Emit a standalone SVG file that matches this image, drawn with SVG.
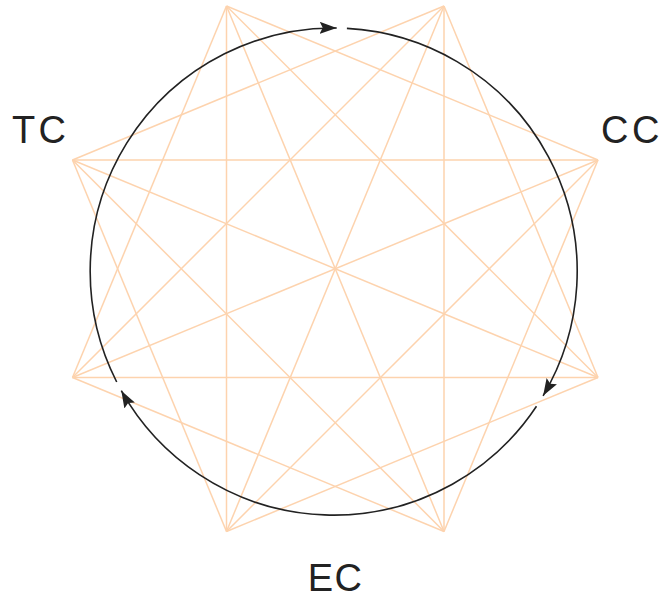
<svg xmlns="http://www.w3.org/2000/svg" width="660" height="599" viewBox="0 0 660 599">
<style>
.star line{stroke:#FDD3AE;stroke-width:1.5;fill:none}
.cyc{stroke:#222;stroke-width:1.6;fill:none;marker-end:url(#ah)}
.lbl{font-family:"Liberation Sans",Arial,sans-serif;font-size:38px;fill:#222}
</style>
<defs>
<marker id="ah" markerUnits="userSpaceOnUse" markerWidth="20" markerHeight="14" refX="17" refY="6" orient="auto" viewBox="0 0 20 14">
<path d="M0,0 L17,6 L0,12 L3,6 Z" fill="#222"/>
</marker>
</defs>
<rect width="660" height="599" fill="#fff"/>
<g id="connectors" class="star">
<line x1="226.5" y1="6" x2="598" y2="160"/>
<line x1="444" y1="6" x2="598" y2="377.5"/>
<line x1="598" y1="160" x2="444" y2="531.5"/>
<line x1="598" y1="377.5" x2="226.5" y2="531.5"/>
<line x1="444" y1="531.5" x2="72.5" y2="377.5"/>
<line x1="226.5" y1="531.5" x2="72.5" y2="160"/>
<line x1="72.5" y1="377.5" x2="226.5" y2="6"/>
<line x1="72.5" y1="160" x2="444" y2="6"/>
<line x1="226.5" y1="6" x2="598" y2="377.5"/>
<line x1="444" y1="6" x2="444" y2="531.5"/>
<line x1="598" y1="160" x2="226.5" y2="531.5"/>
<line x1="598" y1="377.5" x2="72.5" y2="377.5"/>
<line x1="444" y1="531.5" x2="72.5" y2="160"/>
<line x1="226.5" y1="531.5" x2="226.5" y2="6"/>
<line x1="72.5" y1="377.5" x2="444" y2="6"/>
<line x1="72.5" y1="160" x2="598" y2="160"/>
<line x1="226.5" y1="6" x2="444" y2="531.5"/>
<line x1="444" y1="6" x2="226.5" y2="531.5"/>
<line x1="598" y1="160" x2="72.5" y2="377.5"/>
<line x1="598" y1="377.5" x2="72.5" y2="160"/>
</g>
<g id="cycle">
<path class="cyc" d="M116.7,382.0 A243.5,243.5 0 0 1 336.7,28.0"/>
<path class="cyc" d="M346.9,28.4 A243.5,243.5 0 0 1 543.1,395.8"/>
<path class="cyc" d="M536.5,406.3 A243.5,243.5 0 0 1 121.3,390.7"/>
</g>
<g id="TC"><text class="lbl" x="12" y="143" textLength="54" lengthAdjust="spacing">TC</text></g>
<g id="CC"><text class="lbl" x="601" y="143" textLength="58.5" lengthAdjust="spacing">CC</text></g>
<g id="EC"><text class="lbl" x="307.7" y="590.5" textLength="54.3" lengthAdjust="spacing">EC</text></g>
</svg>
